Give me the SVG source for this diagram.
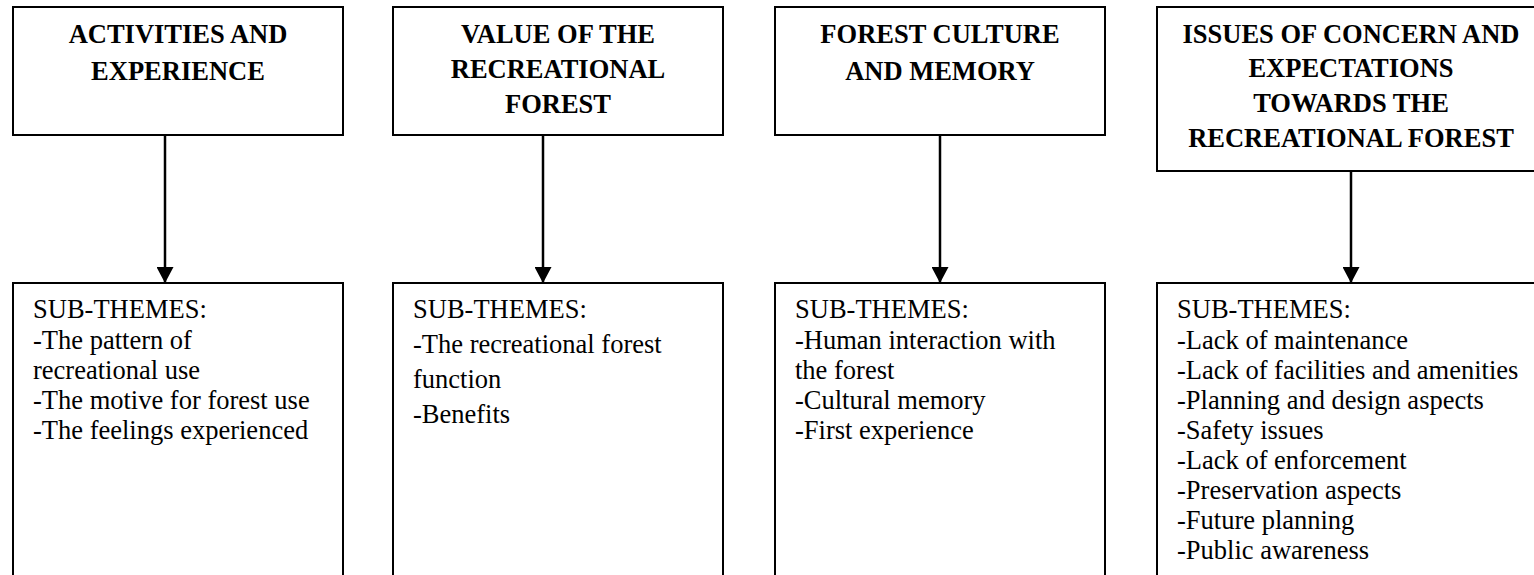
<svg xmlns="http://www.w3.org/2000/svg" width="1534" height="575" viewBox="0 0 1534 575">
<style>
.box{fill:#fff;stroke:#000;stroke-width:2}
.h{font-family:"Liberation Serif","Times New Roman",serif;font-weight:bold;font-size:26.5px;text-anchor:middle;fill:#000}
.b{font-family:"Liberation Serif","Times New Roman",serif;font-size:26.5px;fill:#000}
.conn{stroke:#000;stroke-width:2.5;fill:none}
</style>
<defs>
<marker id="arr" viewBox="0 0 16 17" refX="16" refY="8.5" markerWidth="16" markerHeight="17" markerUnits="userSpaceOnUse" orient="auto">
<path d="M0,0 L16,8.5 L0,17 Z" fill="#000"/>
</marker>
</defs>
<rect width="1534" height="575" fill="#fff"/>
<g id="theme1">
<rect class="box" x="13" y="7" width="330" height="128"/>
<text class="h" x="178" y="43">ACTIVITIES AND</text>
<text class="h" x="178" y="80">EXPERIENCE</text>
</g>
<g id="theme2">
<rect class="box" x="393" y="7" width="330" height="128"/>
<text class="h" x="558" y="43">VALUE OF THE</text>
<text class="h" x="558" y="78">RECREATIONAL</text>
<text class="h" x="558" y="113">FOREST</text>
</g>
<g id="theme3">
<rect class="box" x="775" y="7" width="330" height="128"/>
<text class="h" x="940" y="43">FOREST CULTURE</text>
<text class="h" x="940" y="80">AND MEMORY</text>
</g>
<g id="theme4">
<rect class="box" x="1157" y="7" width="390" height="164"/>
<text class="h" x="1351" y="43">ISSUES OF CONCERN AND</text>
<text class="h" x="1351" y="77">EXPECTATIONS</text>
<text class="h" x="1351" y="112">TOWARDS THE</text>
<text class="h" x="1351" y="147">RECREATIONAL FOREST</text>
</g>
<g id="sub1">
<rect class="box" x="13" y="283" width="330" height="320"/>
<text class="b" x="33" y="318">SUB-THEMES:</text>
<text class="b" x="33" y="349">-The pattern of</text>
<text class="b" x="33" y="379">recreational use</text>
<text class="b" x="33" y="409">-The motive for forest use</text>
<text class="b" x="33" y="439">-The feelings experienced</text>
</g>
<g id="sub2">
<rect class="box" x="393" y="283" width="330" height="320"/>
<text class="b" x="413" y="318">SUB-THEMES:</text>
<text class="b" x="413" y="353">-The recreational forest</text>
<text class="b" x="413" y="388">function</text>
<text class="b" x="413" y="423">-Benefits</text>
</g>
<g id="sub3">
<rect class="box" x="775" y="283" width="330" height="320"/>
<text class="b" x="795" y="318">SUB-THEMES:</text>
<text class="b" x="795" y="349">-Human interaction with</text>
<text class="b" x="795" y="379">the forest</text>
<text class="b" x="795" y="409">-Cultural memory</text>
<text class="b" x="795" y="439">-First experience</text>
</g>
<g id="sub4">
<rect class="box" x="1157" y="283" width="390" height="320"/>
<text class="b" x="1177" y="318">SUB-THEMES:</text>
<text class="b" x="1177" y="349">-Lack of maintenance</text>
<text class="b" x="1177" y="379">-Lack of facilities and amenities</text>
<text class="b" x="1177" y="409">-Planning and design aspects</text>
<text class="b" x="1177" y="439">-Safety issues</text>
<text class="b" x="1177" y="469">-Lack of enforcement</text>
<text class="b" x="1177" y="499">-Preservation aspects</text>
<text class="b" x="1177" y="529">-Future planning</text>
<text class="b" x="1177" y="559">-Public awareness</text>
</g>
<g id="connectors">
<line class="conn" x1="165" y1="135" x2="165" y2="283" marker-end="url(#arr)"/>
<line class="conn" x1="543" y1="135" x2="543" y2="283" marker-end="url(#arr)"/>
<line class="conn" x1="940" y1="135" x2="940" y2="283" marker-end="url(#arr)"/>
<line class="conn" x1="1351" y1="171" x2="1351" y2="283" marker-end="url(#arr)"/>
</g>
</svg>
